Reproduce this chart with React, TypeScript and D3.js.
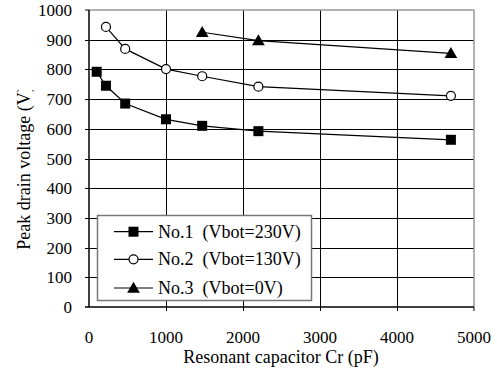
import React, { useRef, useEffect } from 'react';
import * as d3 from 'd3';

const xTicks = [0, 1000, 2000, 3000, 4000, 5000];
const yTicks = [0, 100, 200, 300, 400, 500, 600, 700, 800, 900, 1000];

const no1X = [100, 220, 470, 1000, 1470, 2200, 4700];
const no1Y = [792, 745, 685, 632, 610, 592, 563];
const no2X = [220, 470, 1000, 1470, 2200, 4700];
const no2Y = [943, 869, 801, 777, 742, 711];
const no3X = [1470, 2200, 4700];
const no3Y = [925, 897, 854];

const legendLabels = ['No.1  (Vbot=230V)', 'No.2  (Vbot=130V)', 'No.3  (Vbot=0V)'];
const markers = ['square', 'circle', 'triangle'];

const W = 497;
const H = 369;

const App = () => {
  const ref = useRef(null);

  useEffect(() => {
    const svg = d3.select(ref.current);
    svg.selectAll('*').remove();
    const font = "'Liberation Serif', 'DejaVu Serif', serif";

    const x = d3.scaleLinear().domain([0, 5000]).range([89, 474]);
    const y = d3.scaleLinear().domain([0, 1000]).range([307, 10]);

    const g = svg.append('g').style('font-family', font);

    // grid
    g.selectAll('.hg').data(yTicks.filter(d => d > 0 && d < 1000)).enter().append('line')
      .attr('x1', x(0) - 4).attr('x2', x(5000))
      .attr('y1', d => Math.round(y(d)) + 0.5).attr('y2', d => Math.round(y(d)) + 0.5)
      .attr('stroke', '#000').attr('stroke-width', 1);
    g.selectAll('.vg').data(xTicks.filter(d => d > 0 && d < 5000)).enter().append('line')
      .attr('y1', y(1000)).attr('y2', y(0) + 4)
      .attr('x1', d => Math.round(x(d)) + 0.5).attr('x2', d => Math.round(x(d)) + 0.5)
      .attr('stroke', '#000').attr('stroke-width', 1);

    // frame
    g.append('line').attr('x1', x(0)).attr('x2', x(5000)).attr('y1', y(1000)).attr('y2', y(1000))
      .attr('stroke', '#999').attr('stroke-width', 1.5);
    g.append('line').attr('x1', x(5000)).attr('x2', x(5000)).attr('y1', y(1000)).attr('y2', y(0))
      .attr('stroke', '#999').attr('stroke-width', 1.5);
    g.append('line').attr('x1', x(0)).attr('x2', x(0)).attr('y1', y(1000)).attr('y2', y(0))
      .attr('stroke', '#000').attr('stroke-width', 1.5);
    g.append('line').attr('x1', x(0) - 4).attr('x2', x(5000)).attr('y1', y(0)).attr('y2', y(0))
      .attr('stroke', '#000').attr('stroke-width', 1.5);
    g.append('line').attr('x1', x(0) - 4).attr('x2', x(0)).attr('y1', y(1000)).attr('y2', y(1000))
      .attr('stroke', '#000').attr('stroke-width', 1);
    g.append('line').attr('x1', x(5000)).attr('x2', x(5000)).attr('y1', y(0)).attr('y2', y(0) + 4)
      .attr('stroke', '#000').attr('stroke-width', 1);

    // tick labels
    g.selectAll('.yl').data(yTicks).enter().append('text')
      .attr('x', 72).attr('y', d => y(d) + 6)
      .attr('text-anchor', 'end').attr('font-size', 17)
      .text(d => d);
    g.selectAll('.xl').data(xTicks).enter().append('text')
      .attr('x', d => x(d)).attr('y', 343)
      .attr('text-anchor', 'middle').attr('font-size', 17)
      .text(d => d);

    // titles
    g.append('text').attr('x', 281).attr('y', 363).attr('text-anchor', 'middle')
      .attr('font-size', 18).text('Resonant capacitor Cr (pF)');
    const clip = svg.append('clipPath').attr('id', 'yclip');
    clip.append('rect').attr('x', 0).attr('y', 90).attr('width', 60).attr('height', 250);
    g.append('g').attr('clip-path', 'url(#yclip)')
      .append('text')
      .attr('transform', 'translate(30,168) rotate(-90)').attr('text-anchor', 'middle')
      .attr('font-size', 18).text('Peak drain voltage (V)');

    const line = d3.line().x(d => x(d[0])).y(d => y(d[1]));
    const series = [
      d3.zip(no1X, no1Y),
      d3.zip(no2X, no2Y),
      d3.zip(no3X, no3Y),
    ];

    const drawMarker = (sel, kind, cx, cy) => {
      if (kind === 'square') {
        sel.append('rect').attr('x', cx - 5).attr('y', cy - 5).attr('width', 10).attr('height', 10).attr('fill', '#000');
      } else if (kind === 'circle') {
        sel.append('circle').attr('cx', cx).attr('cy', cy).attr('r', 4.5).attr('fill', '#fff').attr('stroke', '#000').attr('stroke-width', 1.2);
      } else {
        sel.append('path').attr('d', d3.symbol(d3.symbolTriangle, 70)()).attr('transform', `translate(${cx},${cy + 1})`).attr('fill', '#000');
      }
    };

    series.forEach((s, i) => {
      g.append('path').datum(s).attr('d', line).attr('fill', 'none').attr('stroke', '#000').attr('stroke-width', 1.2);
      s.forEach(p => drawMarker(g, markers[i], x(p[0]), y(p[1])));
    });

    // legend
    const lg = g.append('g');
    lg.append('rect').attr('x', 97.5).attr('y', 215.5).attr('width', 214).attr('height', 85)
      .attr('fill', '#fff').attr('stroke', '#777').attr('stroke-width', 1.5);
    const rows = [231.7, 259.3, 288];
    legendLabels.forEach((t, i) => {
      lg.append('line').attr('x1', 114).attr('x2', 153).attr('y1', rows[i]).attr('y2', rows[i])
        .attr('stroke', '#000').attr('stroke-width', 1.2);
      drawMarker(lg, markers[i], 133.5, rows[i]);
      lg.append('text').attr('x', 158).attr('y', rows[i] + 6).attr('font-size', 18)
        .style('white-space', 'pre').text(t);
    });
  }, []);

  return <svg ref={ref} width={W} height={H} style={{ position: 'absolute', left: 0, top: 0, background: '#fff' }} />;
};

export default App;
